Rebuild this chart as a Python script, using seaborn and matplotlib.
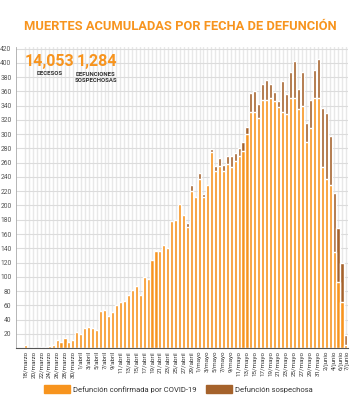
import matplotlib
matplotlib.use("Agg")
import matplotlib.pyplot as plt
import matplotlib.transforms as mtransforms
from matplotlib.patches import Patch
import pandas as pd
import seaborn as sns

# datos (18 marzo - 7 junio)
confirmadas = [4, 0, 1, 0, 2, 2, 3, 4, 11, 9, 14, 9, 11, 22, 20, 28, 29, 28, 26, 52,
               54, 45, 51, 61, 65, 66, 75, 82, 87, 74, 100, 97, 124, 136, 136, 144, 140, 178, 179, 202,
               187, 170, 220, 212, 237, 212, 229, 275, 248, 256, 249, 258, 254, 263, 270, 277, 300, 331, 331, 323,
               348, 348, 351, 347, 338, 331, 328, 351, 351, 335, 340, 289, 309, 350, 351, 254, 237, 228, 135, 93,
               65, 4]
sospechosas = [0, 0, 0, 0, 0, 0, 0, 0, 0, 0, 0, 0, 0, 0, 0, 0, 0, 0, 0, 0,
               0, 0, 0, 0, 0, 0, 0, 0, 0, 0, 0, 0, 0, 2, 0, 0, 0, 0, 0, 0,
               0, 6, 8, 0, 8, 4, 0, 4, 7, 11, 8, 12, 16, 10, 11, 12, 10, 26, 29, 19,
               22, 28, 19, 12, 9, 43, 28, 36, 51, 28, 47, 27, 39, 40, 54, 83, 92, 69, 82, 76,
               54, 14]

meses = {3: "marzo", 4: "abril", 5: "mayo", 6: "junio"}
fechas = [f"{d.day}/{meses[d.month]}" for d in pd.date_range("2020-03-18", "2020-06-07")]

ORANGE = "#F7941E"
BROWN = "#A5622B"

df = pd.DataFrame({"fecha": fechas, "confirmada": confirmadas, "sospechosa": sospechosas})
df["total"] = df["confirmada"] + df["sospechosa"]
n = len(df)

sns.set_style("white")
plt.rcParams["font.family"] = ["Roboto", "DejaVu Sans"]

fig = plt.figure(figsize=(3.5, 4.13), dpi=100)
ax = fig.add_axes([0.046, 0.157, 0.948, 0.729])

sns.barplot(data=df, x="fecha", y="total", color=BROWN, width=0.78,
            saturation=1, errorbar=None, ax=ax)
sns.barplot(data=df, x="fecha", y="confirmada", color=ORANGE, width=0.78,
            saturation=1, errorbar=None, ax=ax)

ax.set_xlim(-2.35, n - 0.5)
ax.set_ylim(0, 422)
ax.set_xlabel("")
ax.set_ylabel("")

# etiquetas cada dos dias y el ultimo
ticks = list(range(0, n, 2)) + [n - 1]
ax.set_xticks(ticks)
ax.set_xticklabels([fechas[i] for i in ticks], rotation=90, fontsize=4.5, color="#333333")
ax.set_xticks(range(n), minor=True)
ax.set_yticks(range(20, 421, 20))
ax.tick_params(axis="y", labelsize=4.9, labelcolor="#555555", length=2.5, width=0.6,
               color="#aaaaaa", pad=0.8)
ax.tick_params(axis="x", which="both", length=0, pad=2)

# separar un poco las dos ultimas etiquetas
labs = ax.get_xticklabels()
labs[-2].set_transform(labs[-2].get_transform() + mtransforms.ScaledTranslation(-1.2 / 100, 0, fig.dpi_scale_trans))
labs[-1].set_transform(labs[-1].get_transform() + mtransforms.ScaledTranslation(1.2 / 100, 0, fig.dpi_scale_trans))

ax.set_axisbelow(True)
ax.grid(True, axis="y", color="#dcdcdc", lw=0.8)
ax.grid(True, axis="x", which="both", color="#e8e8e8", lw=1.0)
for side in ["top", "right"]:
    ax.spines[side].set_visible(False)
ax.spines["left"].set_color("#aaaaaa")
ax.spines["left"].set_linewidth(0.6)
ax.spines["bottom"].set_color("#555555")
ax.spines["bottom"].set_linewidth(0.8)

fig.text(0.514, 0.935, "MUERTES ACUMULADAS POR FECHA DE DEFUNCIÓN", ha="center", va="center",
         fontsize=9.3, fontweight="bold", color=ORANGE)
fig.text(0.071, 0.852, "14,053", ha="left", va="center", fontsize=11.5,
         fontweight="bold", color=ORANGE)
fig.text(0.143, 0.823, "DECESOS", ha="center", va="center", fontsize=4.3,
         fontweight="bold", color="#333333")
fig.text(0.22, 0.852, "1,284", ha="left", va="center", fontsize=11.5,
         fontweight="bold", color=ORANGE)
fig.text(0.274, 0.812, "DEFUNCIONES\nSOSPECHOSAS", ha="center", va="center", fontsize=4.3,
         fontweight="bold", color="#333333", linespacing=1.2)

handles = [Patch(color=ORANGE, label="Defunción confirmada por COVID-19"),
           Patch(color=BROWN, label="Defunción sospechosa")]
fig.legend(handles=handles, loc="center", bbox_to_anchor=(0.51, 0.058), ncol=2,
           frameon=False, fontsize=5.5, handlelength=3.4, handleheight=1.1,
           columnspacing=1.2, handletextpad=0.4, labelcolor="#333333")

fig.savefig("out.png", dpi=100)
